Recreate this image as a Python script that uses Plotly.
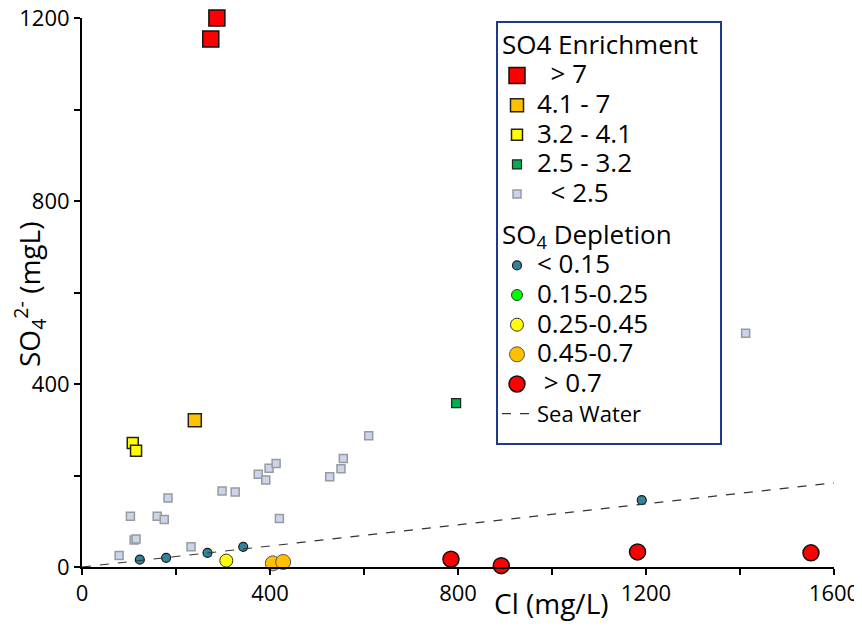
import plotly.graph_objects as go

# ---- data (Cl mg/L, SO4 mg/L) ----
enr_gt7_x = [287, 274]
enr_gt7_y = [1200, 1154]
enr_41_7_x = [240]
enr_41_7_y = [321]
enr_32_41_x = [108, 115]
enr_32_41_y = [271, 254]
enr_25_32_x = [796]
enr_25_32_y = [358]
enr_lt25_x = [79, 103, 111, 115, 160, 175, 183, 232, 298, 326, 375, 391, 398, 413, 420, 527, 551, 556, 610, 1412]
enr_lt25_y = [25, 111, 59, 61, 111, 104, 151, 44, 166, 164, 203, 190, 216, 226, 106, 197, 215, 237, 287, 511]

dep_lt015_x = [123, 179, 267, 343, 1191]
dep_lt015_y = [16, 20, 31, 44, 146]
dep_015_025_x = [None]
dep_015_025_y = [None]
dep_025_045_x = [307]
dep_025_045_y = [14]
dep_045_07_x = [406, 428]
dep_045_07_y = [8, 11]
dep_gt07_x = [785, 892, 1182, 1551]
dep_gt07_y = [17, 3, 33, 31]

sea_x = [0, 1600]
sea_y = [0, 184]

x_ticks = [0, 400, 800, 1200, 1600]
y_ticks = [0, 400, 800, 1200]

FONT = "Open Sans, sans-serif"
fig = go.Figure()

def lbl(t, size=26):
    return "<span style='font-size:%dpx'>%s</span>" % (size, t)

def add(x, y, name, symbol, size, color, lcolor, lwidth, group, gtitle=None):
    tr = dict(x=x, y=y, mode="markers", name=lbl(name), legendgroup=group,
              marker=dict(symbol=symbol, size=size, color=color,
                          line=dict(color=lcolor, width=lwidth)),
              cliponaxis=False)
    if gtitle:
        tr["legendgrouptitle"] = dict(text=lbl(gtitle, 26), font=dict(size=20.5, color="black", family=FONT))
    fig.add_trace(go.Scatter(**tr))

add(enr_gt7_x, enr_gt7_y, "  > 7", "square", 16, "#FF0000", "#111111", 1.5, "enr", "SO4 Enrichment")
add(enr_41_7_x, enr_41_7_y, "4.1 - 7", "square", 13, "#FFC000", "#222222", 1.5, "enr")
add(enr_32_41_x, enr_32_41_y, "3.2 - 4.1", "square", 11, "#FFFF00", "#222222", 1.5, "enr")
add(enr_25_32_x, enr_25_32_y, "2.5 - 3.2", "square", 9, "#00B050", "#222222", 1.2, "enr")
add(enr_lt25_x, enr_lt25_y, "  < 2.5", "square", 8, "#C9D5EC", "#9A9A9A", 1.5, "enr")

add(dep_lt015_x, dep_lt015_y, "< 0.15", "circle", 9, "#31849B", "#1a1a1a", 1.2, "dep", "SO<sub>4</sub> Depletion")
add(dep_015_025_x, dep_015_025_y, "0.15-0.25", "circle", 11, "#00FF00", "#333333", 1, "dep")
add(dep_025_045_x, dep_025_045_y, "0.25-0.45", "circle", 13, "#FFFF00", "#333333", 1, "dep")
add(dep_045_07_x, dep_045_07_y, "0.45-0.7", "circle", 15, "#FFC000", "#555555", 1, "dep")
add(dep_gt07_x, dep_gt07_y, " > 0.7", "circle", 16, "#FF0000", "#111111", 1.5, "dep")

fig.add_trace(go.Scatter(x=sea_x, y=sea_y, mode="lines", name=lbl("Sea Water", 22),
                         legendgroup="dep", line=dict(color="#333333", width=1.2, dash="dash")))

axis_common = dict(showline=True, linecolor="black", linewidth=2, ticks="outside",
                   ticklen=6, tickwidth=1.5, tickcolor="black", showgrid=False, zeroline=False,
                   automargin=False, ticklabeloverflow="allow",
                   tickfont=dict(size=22, color="black", family=FONT),
                   minor=dict(ticks="outside", ticklen=6, tickwidth=1.5, tickcolor="black", dtick=200))

# plot area: 752 x 549 px; legend frame drawn as a paper-referenced rectangle
PW, PH = 752.0, 549.0
def px(xp):  # screen x -> paper
    return (xp - 82) / PW
def py(yp):  # screen y -> paper
    return (567 - yp) / PH

# page body has an 8px margin, so the figure is sized/margined to land on the reference layout
fig.update_layout(
    width=854, height=620,
    margin=dict(l=74, r=28, t=10, b=61),
    paper_bgcolor="white", plot_bgcolor="white",
    font=dict(family=FONT, color="black"),
    xaxis=dict(range=[0, 1600], tickvals=x_ticks, **axis_common),
    yaxis=dict(range=[0, 1200], tickvals=y_ticks, **axis_common),
    legend=dict(x=px(497), y=py(26), xanchor="left", yanchor="top", bgcolor="rgba(0,0,0,0)",
                borderwidth=0, itemsizing="trace",
                font=dict(size=20.5, color="black", family=FONT), tracegroupgap=12),
    showlegend=True,
    shapes=[dict(type="rect", xref="paper", yref="paper", x0=px(497), x1=px(721), y0=py(444), y1=py(22),
                 line=dict(color="#1F3A8A", width=2), fillcolor="white", layer="below")],
    annotations=[
        dict(text="Cl (mg/L)", xref="paper", yref="paper", x=px(551), y=py(603),
             xanchor="center", yanchor="middle", showarrow=False,
             font=dict(size=28, color="black", family=FONT)),
        dict(text="SO<sub>4</sub><sup>2-</sup> (mgL)", xref="paper", yref="paper", x=px(29), y=py(295),
             xanchor="center", yanchor="middle", textangle=-90, showarrow=False,
             font=dict(size=28, color="black", family=FONT)),
    ],
)

fig.write_html("out.html")
